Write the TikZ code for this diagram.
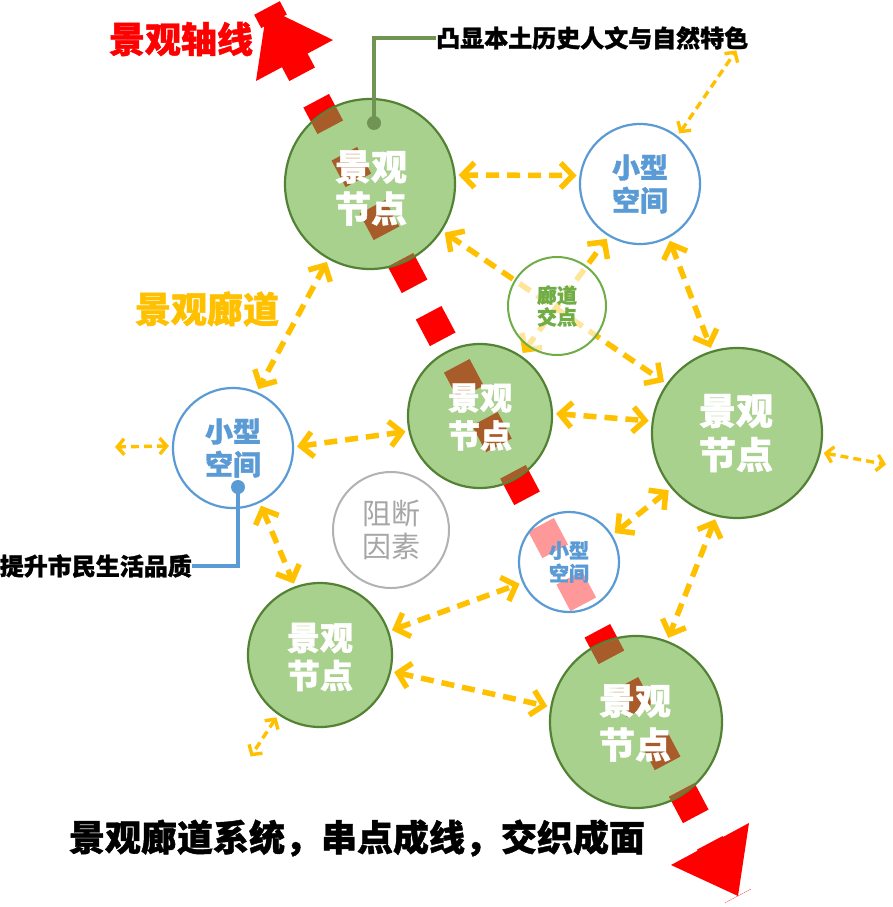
\documentclass[tikz,border=0pt]{standalone}
\usepackage{fontspec}
\newfontfamily\cjk{Noto Sans CJK SC}[BoldFeatures={FakeBold=1.2}]
\usetikzlibrary{arrows.meta}
\definecolor{ngreen}{RGB}{169,209,142}
\definecolor{dgreen}{RGB}{84,130,53}
\definecolor{brownc}{RGB}{168,92,42}
\definecolor{yel}{RGB}{255,192,0}
\definecolor{sblue}{RGB}{91,155,213}
\definecolor{cgreen}{RGB}{112,173,71}
\definecolor{bgray}{RGB}{178,178,178}
\definecolor{tgray}{RGB}{166,166,166}
\definecolor{lgreen}{RGB}{112,148,84}
\newcommand\fsz[2]{\fontsize{#1}{#2}\selectfont}
\begin{document}
\begin{tikzpicture}[x=1pt,y=-1pt,
  axisdash/.style={line width=29pt, dash pattern=on 30pt off 30pt, dash phase=15pt},
  gcirc/.style={circle, fill=ngreen, draw=dgreen, line width=2.2pt, minimum size=#1, inner sep=0pt},
  gtext/.style={text=white, align=center, inner sep=0pt},
  scirc/.style={circle, draw=sblue, line width=2.2pt, minimum size=#1, inner sep=0pt, text=sblue, align=center},
  yarr/.style={draw=yel, line width=5.5pt, dash pattern=on 13pt off 8pt,
    {Straight Barb[length=12pt,width=25pt]}-{Straight Barb[length=12pt,width=25pt]},
    shorten <=3pt, shorten >=3pt},
  tarr/.style={draw=yel, line width=3.4pt, dash pattern=on 8pt off 5pt,
    {Straight Barb[length=7pt,width=16pt]}-{Straight Barb[length=7pt,width=16pt]},
    shorten <=3pt, shorten >=3pt}
]
\useasboundingbox[fill=white] (0,0) rectangle (893,907);

% landscape axis
\coordinate (axA) at (267,8);
\coordinate (axB) at (738,896);
\draw[axisdash, red] (axA) -- (axB);
\fill[red] (axA) -- (333,40) -- (256,81) -- cycle;
\fill[red] (axB) -- (671,865) -- (749,823) -- cycle;

% landscape nodes
\node[gcirc=170pt] (g1) at (370,184) {};
\node[gcirc=144pt] (g2) at (480,416) {};
\node[gcirc=170pt] (g3) at (737,433) {};
\node[gcirc=144pt] (g4) at (320,655) {};
\node[gcirc=172pt] (g5) at (636,722) {};
\foreach \n/\r in {g1/84,g2/71,g5/85}{
  \begin{scope}
    \clip (\n.center) circle[radius=\r pt];
    \draw[axisdash, brownc] (axA) -- (axB);
  \end{scope}
}
\node[gtext, font=\cjk\bfseries\fsz{36}{42}] (g1t) at (371,188) {景观\\节点};
\node[gtext, font=\cjk\bfseries\fsz{32}{38}] (g2t) at (480,417) {景观\\节点};
\node[gtext, font=\cjk\bfseries\fsz{37}{44}] (g3t) at (736,433) {景观\\节点};
\node[gtext, font=\cjk\bfseries\fsz{33}{38}] (g4t) at (320,657) {景观\\节点};
\node[gtext, font=\cjk\bfseries\fsz{36}{44}] (g5t) at (635,723) {景观\\节点};

% small spaces
\node[scirc=120pt, font=\cjk\bfseries\fsz{28}{33}] (s1) at (640,184) {小型\\空间};
\node[scirc=120pt, font=\cjk\bfseries\fsz{28}{33}] (s2) at (233,448) {小型\\空间};
\node[scirc=100pt, fill=white, fill opacity=0.6, text opacity=1, font=\cjk\bfseries\fsz{20}{23}] (s3) at (569,562) {小型\\空间};
\node[circle, draw=bgray, line width=2pt, minimum size=116pt, inner sep=0pt, text=tgray, align=center, font=\cjk\fsz{29}{33}] (bk) at (391,530) {阻断\\因素};

% free ends
\coordinate (o1) at (738,48);
\coordinate (o2) at (112,447);
\coordinate (o3) at (889,465);
\coordinate (o4) at (249,759);

% corridors
\draw[yarr] (g1.6.5) -- (s1.172.6);
\draw[tarr] (s1.52) -- (o1);
\draw[yarr] (g1.-33) -- (g3.145);
\draw[yarr] (g2.56) -- (s1.-121);
\draw[yarr] (s1.-62) -- (g3.107);
\draw[yarr] (g1.-119) -- (s2.67);
\draw[yarr] (s2.1) -- (g2.-168);
\draw[tarr] (s2.178) -- (o2);
\draw[yarr] (g2.2) -- (g3.172);
\draw[tarr] (g3.-13) -- (o3);
\draw[yarr] (g3.-140) -- (s3.32);
\draw[yarr] (g3.-104) -- (g5.69);
\draw[yarr] (s2.-64) -- (g4.110);
\draw[yarr] (g4.19) -- (s3.-156);
\draw[yarr] (g4.-13.5) -- (g5.170);
\draw[tarr] (g4.-125) -- (o4);

% corridor intersection
\node[circle, draw=cgreen, line width=2pt, fill=white, fill opacity=0.6, text opacity=1, minimum size=98pt, inner sep=0pt, text=cgreen, align=center, font=\cjk\bfseries\fsz{20}{22}] (cx) at (557,306) {廊道\\交点};

% labels
\node[text=red, font=\cjk\bfseries\fsz{36}{40}] (axl) at (181,39) {景观轴线};
\node[anchor=west, inner sep=0pt, font=\cjk\bfseries\fsz{24}{28}] (t1) at (436,38) {凸显本土历史人文与自然特色};
\node[circle, fill=lgreen, inner sep=0pt, minimum size=14pt] (gd) at (374,123) {};
\draw[lgreen, line width=4pt] (gd.center) |- (t1.west);
\node[anchor=east, inner sep=0pt, font=\cjk\bfseries\fsz{24}{28}] (t2) at (192,566) {提升市民生活品质};
\node[circle, fill=sblue, inner sep=0pt, minimum size=14pt] (bd) at (238,487) {};
\draw[sblue, line width=4pt] (bd.center) |- (t2.east);
\node[text=yel, font=\cjk\bfseries\fsz{36}{40}] (cl) at (207,309) {景观廊道};
\node[font=\cjk\bfseries\fsz{36}{40}] (bt) at (357,838) {景观廊道系统，串点成线，交织成面};
\end{tikzpicture}
\end{document}
